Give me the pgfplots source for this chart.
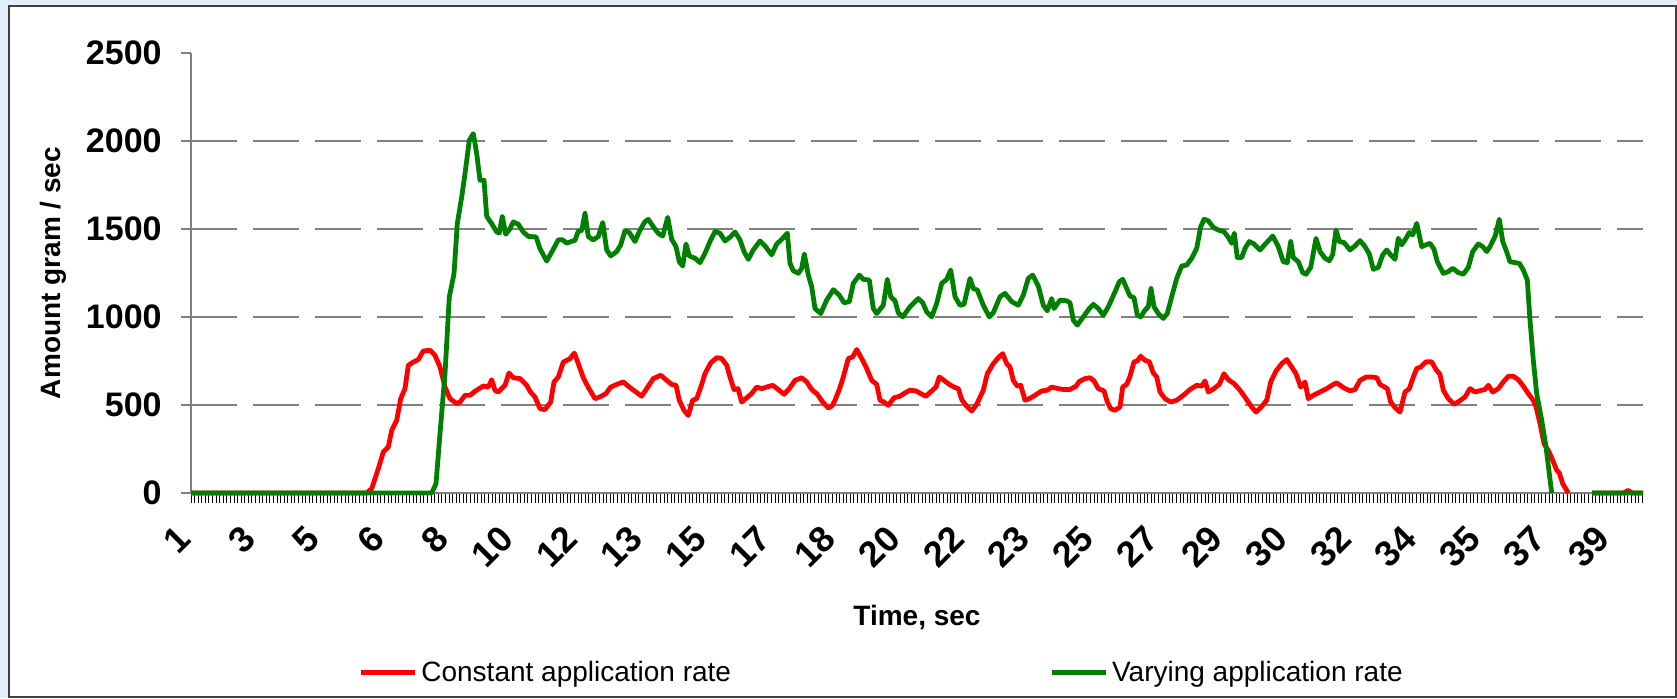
\documentclass[border=0pt]{standalone}
\usepackage{fontspec}
\setmainfont{Liberation Sans}
\usepackage{pgfplots}
\pgfplotsset{compat=1.18}
\definecolor{bgblue}{RGB}{226,239,250}
\definecolor{lred}{RGB}{255,0,0}
\definecolor{lgreen}{RGB}{0,128,0}
\definecolor{gridgray}{RGB}{128,128,128}
\begin{document}
\begin{tikzpicture}
\useasboundingbox (0,0) rectangle (838.5pt,349pt);
\fill[bgblue] (0,0) rectangle (838.5pt,349pt);
\filldraw[fill=white, draw=black!75, line width=0.8pt] (4.5pt,0.5pt) rectangle (838pt,346pt);
\begin{axis}[
  at={(95.5pt,102.5pt)}, anchor=south west,
  x=0.5pt, y=0.088pt,
  xmin=191, xmax=1643, ymin=0, ymax=2500,
  axis lines=left,
  axis line style={-, draw=gridgray, line width=0.7pt},
  clip=false,
  tick align=outside,
  major tick length=5pt, minor tick length=5pt,
  unbounded coords=jump,
  /pgf/number format/assume math mode=true,
  /pgf/number format/1000 sep={},
  ytick={0,500,1000,1500,2000,2500},
  extra y ticks={500,1000,1500,2000},
  extra y tick labels={},
  extra y tick style={grid=major},
  grid style={draw=gridgray, dash pattern=on 23pt off 8pt, line width=0.75pt},
  ytick style={draw=gridgray, line width=0.6pt},
  xtick style={draw=black, line width=0.5pt},
  xtick={191,255.5,320,384.5,449,513.5,578,642.5,707,771.5,836,900.5,965,1029.5,1094,1158.5,1223,1287.5,1352,1416.5,1481,1545.5,1610},
  xticklabels={1,3,5,6,8,10,12,13,15,17,18,20,22,23,25,27,29,30,32,34,35,37,39},
  minor xtick={191,194.5833,...,1643},
  yticklabel style={font=\fontsize{17}{19}\selectfont\bfseries, anchor=east, inner sep=0pt, xshift=-9.5pt},
  xticklabel style={font=\fontsize{18}{20}\selectfont\bfseries, xshift=-8pt, yshift=-10pt, rotate=45, anchor=north east, inner sep=0pt},
  xlabel={Time, sec},
  xlabel style={at={(axis description cs:0.5,-0.282)}, anchor=center, font=\fontsize{14}{16}\selectfont\bfseries},
  ylabel={Amount gram / sec},
  ylabel style={at={(axis description cs:-0.095,0.5)}, anchor=center, font=\fontsize{14}{16}\selectfont\bfseries},
  legend columns=2,
  legend style={at={(axis description cs:0.115,-0.409)}, anchor=west, draw=none, fill=none,
    font=\fontsize{14}{16}\selectfont, inner sep=0pt,
    /tikz/every even column/.append style={column sep=157pt}},
  legend image code/.code={\draw[#1, line width=2.5pt, line cap=butt] (0pt,0pt) -- (27pt,0pt);},
]
\addplot[lred, line width=2.4pt, line join=round] coordinates {
(191,0)(366.7,0)(371.7,25)(378.3,138)(383.3,233)(388.3,261)(391.7,356)(396.7,413)(400.7,536)(405,593)
(408.3,725)(413.3,744)(418.3,758)(423.3,807)(430,811)(435,782)(440,716)(445,602)(450,536)(456.7,508)
(460,517)(465,555)(470,555)(475,578)(483.3,608)(488.3,602)(491.7,644)(495,583)(498.3,574)(505,612)
(509,682)(513.3,655)(520,650)(526.7,612)(530,578)(535,545)(540,479)(545,474)(550.7,517)(554,631)
(558.3,659)(563.3,744)(570,763)(574.3,795)(578.3,735)(583.3,655)(588.3,600)(595,536)(600,546)(606,565)
(610.7,602)(616.7,617)(623.3,631)(630,599)(636,574)(641.7,550)(646.7,593)(653.3,650)(660.7,669)(666.7,640)
(671.7,617)(676,612)(679.3,527)(684,470)(688.3,441)(692.7,527)(696.7,536)(701.7,617)(705,678)(710.7,739)
(716.7,769)(721.7,764)(726.7,726)(730,659)(734,588)(738,593)(741.7,517)(746.7,541)(751.7,565)(756.7,602)
(761.7,593)(766.7,602)(772.7,612)(778.3,588)(784,561)(789.3,593)(795,640)(801.7,655)(806.7,631)(811.7,588)
(817.3,561)(822.7,517)(828.3,483)(832,495)(835,527)(839.3,588)(843.3,659)(848.3,764)(852.7,773)(856.7,815)
(861.7,764)(866,716)(871.7,640)(876.7,617)(880,527)(884,517)(888.3,498)(894,541)(900,550)(905,569)
(910,584)(916,580)(920.7,565)(926,550)(931.7,580)(936,602)(939.3,659)(944,640)(949.3,617)(954,602)
(958.3,593)(961.7,531)(966.7,493)(971.7,466)(976.7,504)(983.3,584)(987.3,678)(993.3,735)(998.3,769)(1002.7,792)
(1006.7,735)(1010,716)(1013.3,640)(1017.3,607)(1020.7,612)(1025,527)(1029.3,536)(1035,555)(1041.7,580)(1047.3,584)
(1051.7,602)(1058.3,593)(1063.3,588)(1070,588)(1076,607)(1079.3,634)(1085,650)(1090,655)(1094,637)(1098.3,593)
(1104,580)(1107.3,517)(1110.7,479)(1115,470)(1120,489)(1122.7,602)(1126.7,617)(1130,663)(1134,745)(1137.3,750)
(1140.7,777)(1145,754)(1149.3,745)(1153.3,682)(1156.7,659)(1160,574)(1165,536)(1170.7,517)(1176.7,527)(1183.3,555)
(1190,588)(1196.7,612)(1201.7,607)(1205,637)(1208.3,574)(1212.7,588)(1219.3,617)(1224,678)(1228.3,644)(1234,622)
(1240,584)(1246,536)(1251.7,489)(1256,460)(1260.7,485)(1266.7,527)(1270.7,631)(1276,693)(1281.7,735)(1286.7,758)
(1291.7,716)(1296,678)(1300.7,602)(1305,631)(1308.3,536)(1313.3,555)(1320,574)(1326.7,593)(1333.3,617)(1336.7,626)
(1343.3,599)(1350,580)(1355,588)(1360,640)(1366,659)(1371.7,659)(1376.7,655)(1380,617)(1387.3,593)(1390.7,517)
(1395,485)(1400,460)(1405,574)(1409.3,593)(1413.3,659)(1416.7,707)(1420.7,716)(1426,745)(1431.7,745)(1436,701)
(1440,674)(1443.3,584)(1448.3,536)(1454,504)(1459.3,522)(1465,546)(1470,593)(1475,574)(1481.7,584)(1485,588)
(1488.3,612)(1492.7,574)(1498.3,593)(1503.3,631)(1508.3,663)(1513.3,663)(1518.3,644)(1523.3,607)(1528.3,565)(1533.3,527)
(1536,490)(1540,394)(1544,280)(1548.3,242)(1552.7,186)(1556.7,129)(1559.3,114)(1562.7,53)(1568.3,0)
(1580,nan)(1592,0)(1624,0)(1628,15)(1632,0)(1643,0)
};
\addlegendentry{Constant application rate}
\addplot[lgreen, line width=2.4pt, line join=round] coordinates {
(191,0)(431.7,0)(436,53)(440,337)(445,678)(449.3,1114)(454,1246)(457.3,1530)(461.7,1682)(465,1814)
(469.3,2004)(473.3,2042)(476.7,1928)(480,1777)(484,1777)(486.7,1572)(491.7,1530)(496.7,1483)(499.3,1477)(502.3,1572)
(505.7,1470)(510,1502)(513.3,1540)(518.3,1527)(523.3,1483)(528.3,1458)(536,1455)(540,1388)(546.7,1318)(552.7,1379)
(558.3,1439)(562.3,1439)(566.7,1420)(575,1436)(578.3,1487)(581.7,1492)(585,1589)(588.3,1457)(593.3,1438)(598.3,1457)
(602.7,1537)(606.7,1381)(610.7,1347)(616.7,1372)(620.7,1410)(625,1491)(629.3,1480)(635,1429)(640,1494)(645,1542)
(648.3,1555)(653.3,1513)(658.3,1475)(662.7,1460)(667.7,1566)(671.7,1441)(676,1400)(679.3,1314)(682.7,1290)(686,1415)
(689.3,1347)(695,1334)(700,1309)(705,1362)(710,1429)(715,1486)(720,1476)(725,1432)(730,1453)(735,1483)
(740,1438)(744,1372)(748.3,1328)(753.3,1381)(760,1432)(765,1404)(771.7,1353)(776.7,1415)(781.7,1441)(787.3,1476)
(790,1305)(793.3,1263)(798.3,1248)(801.7,1277)(804.3,1358)(808.3,1238)(811.7,1172)(815,1048)(820.7,1020)(826.7,1096)
(833.3,1155)(839.3,1124)(844,1081)(849.3,1087)(853.3,1191)(859.3,1238)(863.3,1214)(869.3,1210)(873.3,1048)(876.7,1020)
(883.3,1067)(887.3,1214)(890.7,1115)(895,1092)(898.3,1024)(902.7,1001)(910,1058)(918.3,1105)(922.7,1081)(926.7,1029)
(931.7,1001)(936.7,1077)(941.7,1191)(946.7,1214)(950.7,1267)(955,1115)(960,1067)(964,1072)(970,1219)(973.3,1162)
(977.3,1153)(983.3,1067)(989.3,1001)(993.3,1024)(1000,1115)(1005,1134)(1011.7,1087)(1018.3,1067)(1023.3,1124)(1028.3,1219)
(1032.7,1238)(1038.3,1176)(1043.3,1067)(1047.3,1035)(1051.7,1105)(1054,1048)(1060,1096)(1066.7,1092)(1070,1081)(1073.3,982)
(1077.3,954)(1083.3,1001)(1089.3,1048)(1093.3,1072)(1098.3,1048)(1103.3,1010)(1108.3,1058)(1115,1143)(1119.3,1200)(1122.7,1214)
(1126.7,1162)(1130,1119)(1134,1110)(1137.3,1010)(1140.7,1001)(1145,1039)(1148.3,1058)(1151,1162)(1154,1058)(1158.3,1020)
(1163.3,992)(1167.3,1020)(1171.7,1115)(1176.7,1219)(1181.7,1290)(1186.7,1295)(1191.7,1334)(1196.7,1390)(1200.7,1513)(1204,1555)
(1208.3,1547)(1213.3,1509)(1218.3,1494)(1224,1485)(1228.3,1453)(1231.7,1419)(1234.3,1476)(1237.3,1338)(1241.7,1338)(1245,1390)
(1249.3,1429)(1254,1415)(1260,1381)(1266,1419)(1272.7,1460)(1278.3,1400)(1283.3,1314)(1287.3,1309)(1290.7,1429)(1293.3,1338)
(1298.3,1314)(1302.7,1252)(1306,1243)(1310.7,1282)(1316,1447)(1320,1372)(1325,1334)(1329.3,1320)(1332.7,1355)(1336,1494)
(1339.3,1429)(1344,1423)(1350,1381)(1355,1404)(1360,1434)(1365,1400)(1369.3,1358)(1373.3,1271)(1378.3,1282)(1382.7,1353)
(1386.7,1381)(1390.7,1353)(1395,1328)(1398.3,1447)(1401.7,1410)(1406,1447)(1409.3,1480)(1412.7,1466)(1416.7,1532)(1421.7,1400)
(1426,1410)(1430,1419)(1434,1385)(1437.3,1314)(1443.3,1248)(1448.3,1258)(1452.7,1277)(1458.3,1252)(1463.3,1243)(1468.3,1282)
(1472.7,1372)(1478.3,1415)(1482.7,1400)(1486.7,1372)(1490,1400)(1495,1457)(1499.3,1555)(1502.7,1429)(1506,1381)(1510,1314)
(1515,1309)(1519.3,1305)(1523.3,1267)(1527.3,1210)(1530,981)(1533.3,754)(1536.7,564)(1541.7,413)(1546,261)(1549.3,110)
(1551.7,0)(1570,nan)(1592,0)(1643,0)
};
\addlegendentry{Varying application rate}
\end{axis}
\end{tikzpicture}
\end{document}
